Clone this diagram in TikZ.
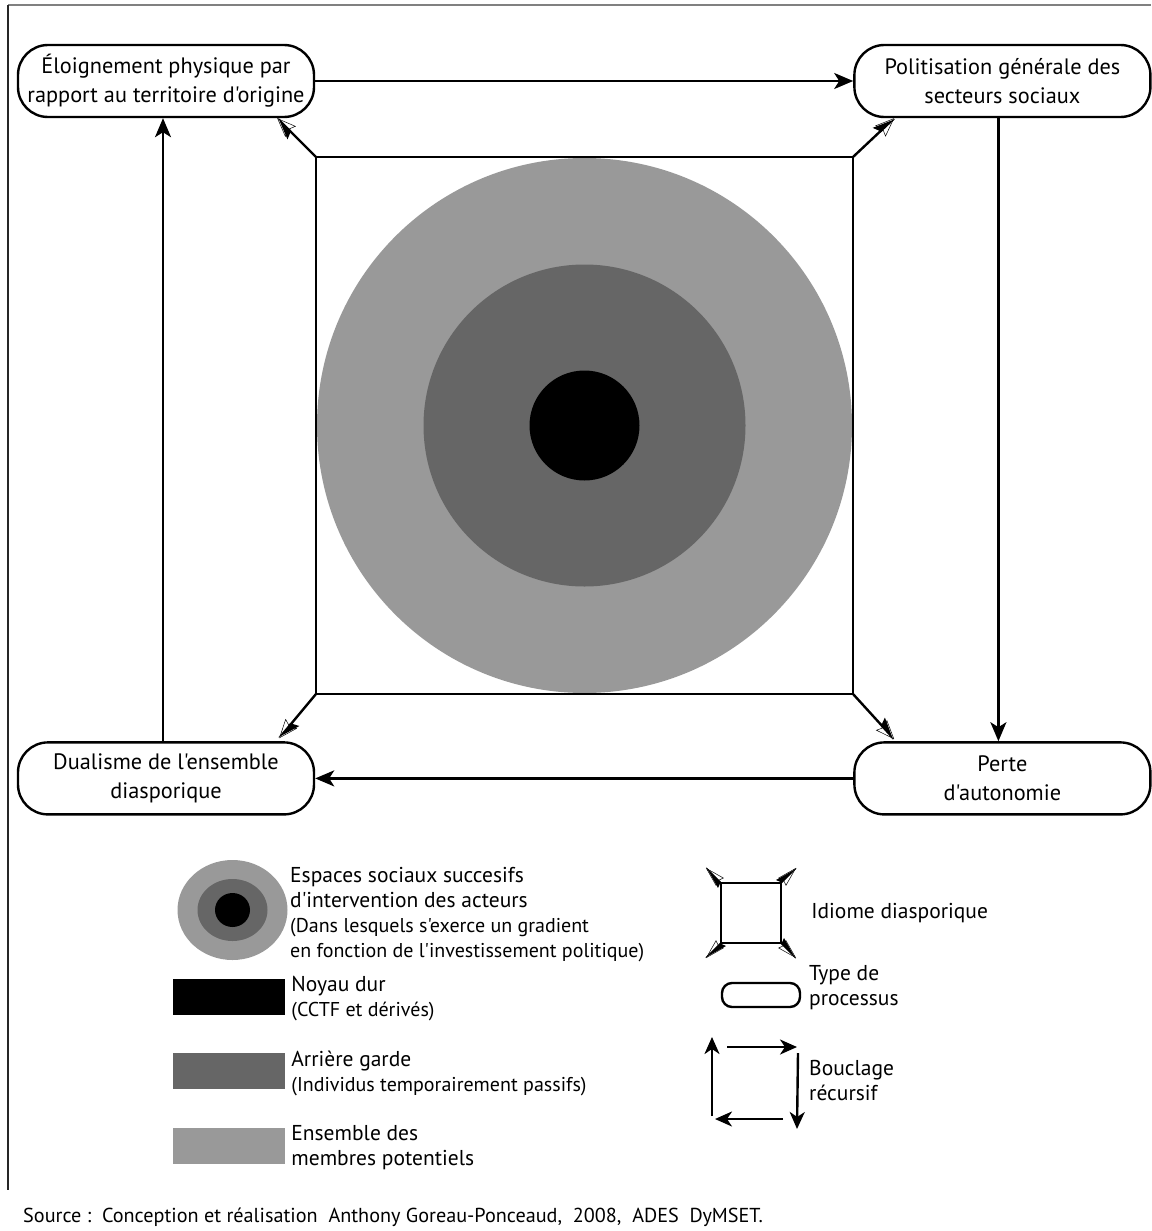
\documentclass[tikz,border=0pt]{standalone}
\usepackage{fontspec}
\setmainfont{PT Sans}[Ligatures=TeXOff]
\usetikzlibrary{arrows.meta,positioning,calc,shapes.geometric}

\definecolor{grisclair}{HTML}{999999}
\definecolor{grisfonce}{HTML}{666666}

\begin{document}
\begin{tikzpicture}[x=1pt,y=-1pt,line width=2.4pt,
                    >={Stealth[length=19pt,width=16pt,inset=5pt]}]
  \tikzstyle{processus}=[draw,rounded corners=30pt,minimum width=296pt,minimum height=72pt,
                         inner sep=0pt,align=center,font=\fontsize{22.3}{29}\selectfont]
  \tikzstyle{demiouvert}=[-{Stealth[harpoon,length=19pt,width=15pt,inset=3pt]},
                          postaction={draw,line width=0.5pt,-{Stealth[open,length=19pt,width=15pt,inset=3pt]}}]
  \tikzstyle{pointe}=[line width=1.5pt,-{Stealth[harpoon,length=20pt,width=11pt,inset=2pt]},
                      postaction={draw,line width=0.5pt,-{Stealth[open,length=20pt,width=11pt,inset=2pt]}}]
  \tikzstyle{legende}=[anchor=west,align=left,inner sep=0pt,font=\fontsize{21.5}{25}\selectfont]
  \tikzstyle{aplat}=[minimum width=112pt,minimum height=36pt,inner sep=0pt]
  \tikzstyle{boucle}=[->,>={Stealth[length=17pt,width=15pt,inset=5pt]}]

  \useasboundingbox (0,0) rectangle (1151,1231);

  % cadre
  \draw[gray,line width=1.5pt] (8,5) -- (1151,5);
  \draw[black!85,line width=1.2pt] (8,5) -- (8,1190);

  % espaces sociaux
  \node[draw=none,minimum size=535pt,inner sep=0pt] (idiome) at (584.5,425.5) {};
  \fill[grisclair] (idiome.center) circle (267.5pt);
  \fill[grisfonce] (idiome.center) circle (161pt);
  \fill[black]     (idiome.center) circle (55pt);
  \draw (idiome.north west) rectangle (idiome.south east);

  % processus
  \node[processus] (eloign)                     at (166,81) {Éloignement physique par\\rapport au territoire d'origine};
  \node[processus] (polit) [right=538pt of eloign]          {Politisation générale des\\secteurs sociaux};
  \node[processus] (dual)  [below=623pt of eloign]          {Dualisme de l'ensemble\\diasporique};
  \node[processus] (perte) [below=623pt of polit]           {Perte\\d'autonomie};

  % bouclage
  \draw[->] (eloign) -- (polit);
  \draw[->] ($(polit.south)+(-4,0)$) -- ($(perte.north)+(-4,0)$);
  \draw[->] (perte) -- (dual);
  \draw[->] ($(dual.north)+(-3,0)$) -- ($(eloign.south)+(-3,0)$);

  % idiome diasporique
  \draw[demiouvert] (idiome.north west) -- ($(eloign.south east)+(-38,0)$);
  \draw[demiouvert] (idiome.north east) -- ($(polit.south west)+(41,0)$);
  \draw[demiouvert] (idiome.south west) -- ($(dual.north east)+(-36,-3)$);
  \draw[demiouvert] (idiome.south east) -- ($(perte.north west)+(41,-2)$);

  % legende, colonne gauche
  \node[ellipse,fill=grisclair,minimum width=110pt,minimum height=100pt,inner sep=0pt] (legcercle) at (232.5,910) {};
  \node[ellipse,fill=grisfonce,minimum width=70pt,minimum height=62pt,inner sep=0pt] at (legcercle) {};
  \node[ellipse,fill=black,minimum width=35pt,minimum height=34pt,inner sep=0pt] at (legcercle) {};
  \node[legende] (txtcercle) at (289,915) {Espaces sociaux succesifs\\d'intervention des acteurs\\
        {\fontsize{20}{25}\selectfont (Dans lesquels s'exerce un gradient}\\
        {\fontsize{20}{25}\selectfont en fonction de l'investissement politique)}};

  \node[aplat,fill=black]     (legnoyau)  at (229,997)  {};
  \node[aplat,fill=grisfonce] (legarr)    at (229,1071) {};
  \node[aplat,fill=grisclair] (legens)    at (229,1146) {};
  \node[legende] [right=4pt of legnoyau,yshift=-2pt] {Noyau dur\\{\fontsize{20}{25}\selectfont (CCTF et dérivés)}};
  \node[legende] [right=4pt of legarr,yshift=-2pt]   {Arrière garde\\{\fontsize{20}{25}\selectfont (Individus temporairement passifs)}};
  \node[legende] [right=4pt of legens,yshift=-2pt]   {Ensemble des\\membres potentiels};

  % legende, colonne droite
  \node[draw,minimum size=60pt,inner sep=0pt] (legidiome) at (751,913) {};
  \foreach \coin/\dir in {north west/{(-14,-14)},north east/{(14,-14)},south west/{(-14,14)},south east/{(14,14)}}
    \draw[pointe] (legidiome.\coin) -- ++\dir;
  \node[legende] [right=28pt of legidiome] {Idiome diasporique};

  \node[draw,rounded corners=10pt,minimum width=78pt,minimum height=24pt,inner sep=0pt] (legproc) at (761,995) {};
  \node[legende] at (808,988) {Type de\\processus};

  \coordinate (bsg) at (712,1116);
  \coordinate (bng) at (712,1037);
  \coordinate (bnd) at (797,1047);
  \coordinate (bsd) at (797,1129);
  \draw[boucle] (bsg) -- (bng);
  \draw[boucle] ($(bng)+(15,10)$) -- (bnd);
  \draw[boucle] ($(bnd)+(1,6)$) -- (bsd);
  \draw[boucle] ($(bsd)+(-14,-10)$) -- ($(bsg)+(3,3)$);
  \node[legende] at (808,1081) {Bouclage\\récursif};

  % source
  \node[anchor=base west,inner sep=0pt,font=\fontsize{20.2}{22}\selectfont] (source) at (22,1222)
       {Source :\ \ Conception et réalisation \ Anthony Goreau-Ponceaud, \ 2008, \ ADES \ DyMSET.};
\end{tikzpicture}
\end{document}
